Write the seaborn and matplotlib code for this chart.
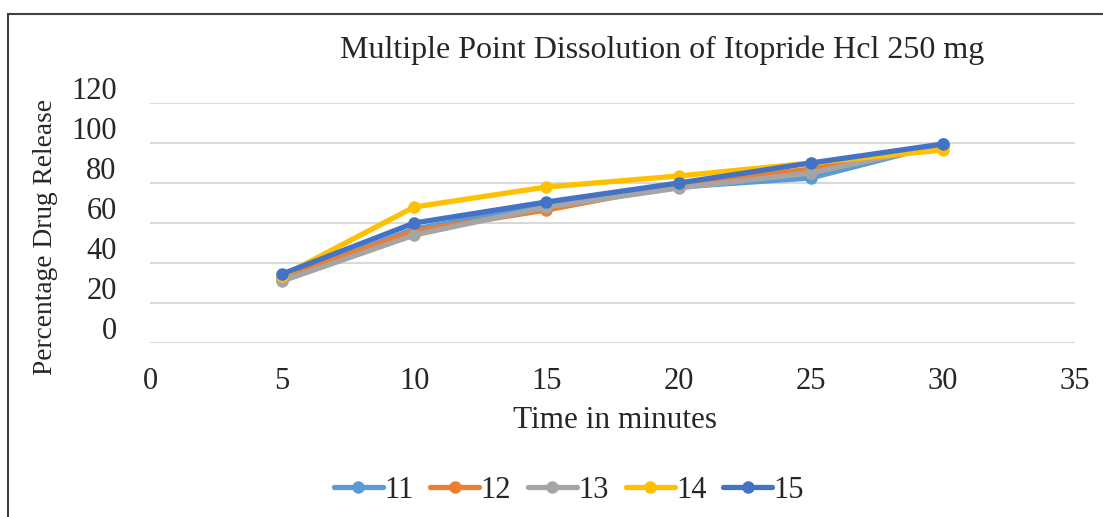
import matplotlib
matplotlib.use("Agg")
import matplotlib.pyplot as plt
import matplotlib.transforms as mtransforms
from matplotlib.patches import Rectangle
import seaborn as sns
import pandas as pd

time_min = [5, 10, 15, 20, 25, 30]
s11 = [32, 57, 69, 78, 82.5, 99.5]
s12 = [32.5, 56, 66.5, 79, 87, 99]
s13 = [31, 54, 68, 77.5, 85, 99]
s14 = [33.5, 68, 78, 83.5, 90, 96.5]
s15 = [34.5, 60, 70.5, 80, 90, 99.5]
series_names = ["11", "12", "13", "14", "15"]
colors = ["#5B9BD5", "#ED7D31", "#A5A5A5", "#FFC000", "#4472C4"]
x_ticks = [0, 5, 10, 15, 20, 25, 30, 35]
y_ticks = [0, 20, 40, 60, 80, 100, 120]

rows = []
for name, vals in zip(series_names, [s11, s12, s13, s14, s15]):
    for t, v in zip(time_min, vals):
        rows.append({"Time": t, "Release": v, "Series": name})
df = pd.DataFrame(rows)

sns.set_theme(style="white")
plt.rcParams["font.family"] = ["Liberation Serif", "DejaVu Serif"]

fig = plt.figure(figsize=(11.03, 5.17), dpi=100)
ax = fig.add_axes([150 / 1103, 1 - 343 / 517, 925 / 1103, 240 / 517])

sns.lineplot(data=df, x="Time", y="Release", hue="Series", palette=colors,
             hue_order=series_names, marker="o", markersize=9, linewidth=3.8,
             markeredgewidth=0, ax=ax, legend=True)

ax.set_xlim(0, 35)
ax.set_ylim(0, 120)
ax.set_xticks(x_ticks)
ax.set_yticks(y_ticks)
ax.set_xticklabels([str(v) for v in x_ticks], fontsize=22)
ax.set_yticklabels([str(v) for v in y_ticks], fontsize=22)
ax.tick_params(axis="x", length=0, pad=17)
ax.tick_params(axis="y", length=0, pad=24)
off = mtransforms.ScaledTranslation(0, 15 / 100, fig.dpi_scale_trans)
for lbl in ax.get_yticklabels():
    lbl.set_transform(lbl.get_transform() + off)

ax.grid(axis="y", color="#d9d9d9", linewidth=1.5)
ax.grid(axis="x", visible=False)
for s in ax.spines.values():
    s.set_visible(False)
ax.set_axisbelow(True)

ax.set_xlabel("")
ax.set_ylabel("")
fig.text(615 / 1103, 1 - 421 / 517, "Time in minutes", ha="center", va="center", fontsize=22.5)
fig.text(45 / 1103, 1 - 237 / 517, "Percentage Drug Release", ha="center", va="center",
         rotation=90, fontsize=19.7)
fig.text(662 / 1103, 1 - 50 / 517, "Multiple Point Dissolution of Itopride Hcl 250 mg",
         ha="center", va="center", fontsize=23)

handles, labels = ax.get_legend_handles_labels()
ax.get_legend().remove()
fig.legend(handles, labels, loc="center", bbox_to_anchor=(569 / 1103, 1 - 490 / 517),
           ncol=5, frameon=False, fontsize=22, handlelength=1.6, handletextpad=0.05,
           columnspacing=0.55)

fig.patches.append(Rectangle((8 / 1103, -0.1), 1.2, 1 - 14 / 517 + 0.1,
                             transform=fig.transFigure, fill=False,
                             edgecolor="#404040", linewidth=1.5))

fig.savefig("out.png", dpi=100)
